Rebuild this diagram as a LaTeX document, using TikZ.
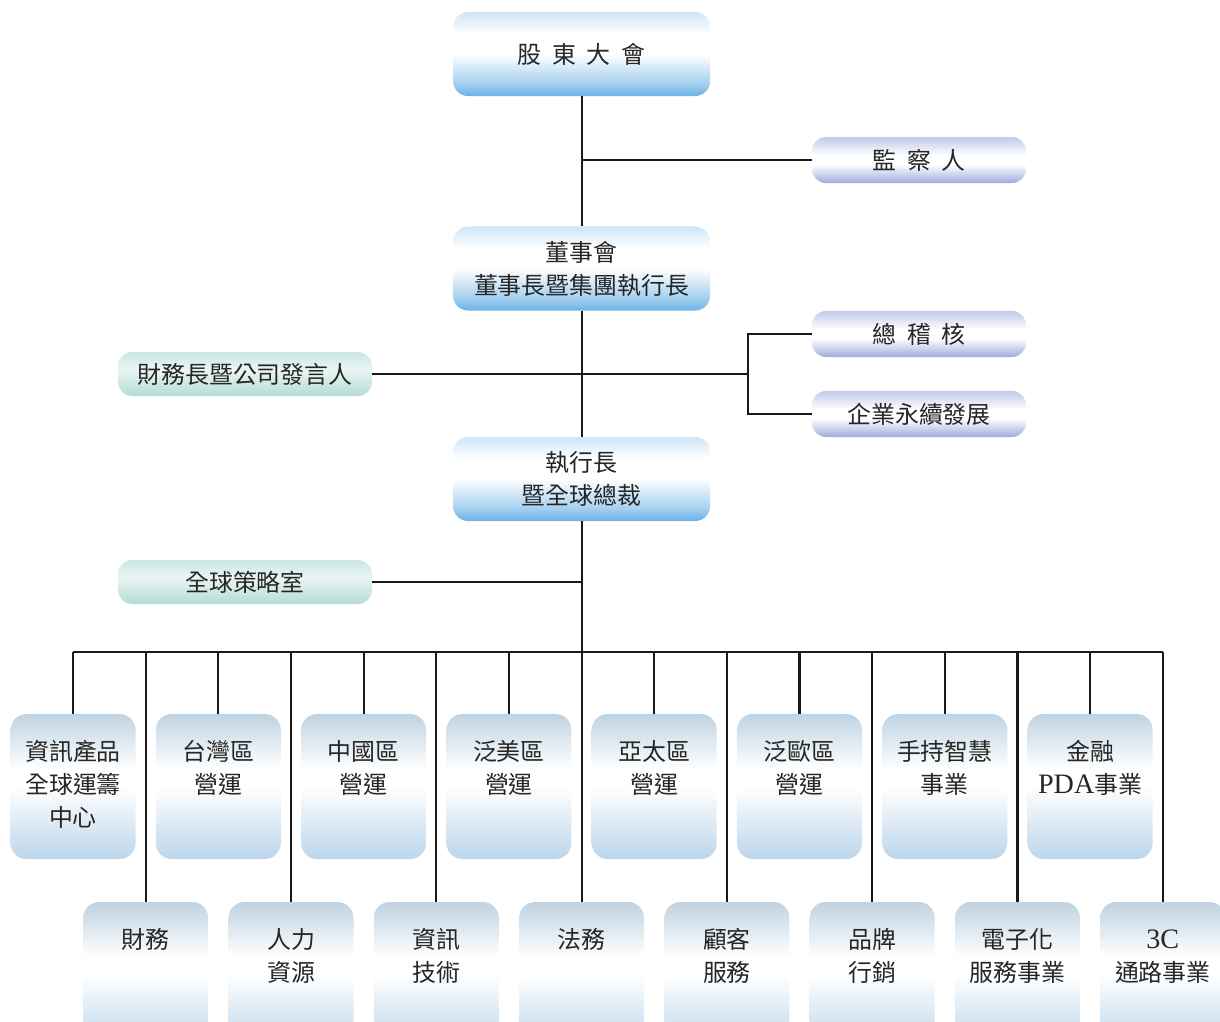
\documentclass[tikz,border=0pt]{standalone}
\usepackage{fontspec}
\setmainfont{Liberation Serif}
\newfontfamily\cjk{Noto Sans CJK TC}
\usetikzlibrary{calc,positioning}

\definecolor{bluetop}{HTML}{CFE6F8}
\definecolor{bluebot}{HTML}{6CB2E6}
\definecolor{lavtop}{HTML}{C2C8EA}
\definecolor{lavbot}{HTML}{A0AADC}
\definecolor{tealtop}{HTML}{CBE7E2}
\definecolor{tealbot}{HTML}{B3DCD5}
\definecolor{greytop}{HTML}{BFD3E2}
\definecolor{greybot}{HTML}{BCD6EB}

% vertical shadings, the middle 50bp is fitted to the node
\pgfdeclareverticalshading{bluebar}{100bp}{color(0bp)=(bluebot); color(25bp)=(bluebot); color(33bp)=(bluebot!60!white); color(50bp)=(white); color(62bp)=(white); color(75bp)=(bluetop); color(100bp)=(bluetop)}
\pgfdeclareverticalshading{lavbar}{100bp}{color(0bp)=(lavbot); color(25bp)=(lavbot); color(45bp)=(white); color(55bp)=(white); color(75bp)=(lavtop); color(100bp)=(lavtop)}
\pgfdeclareverticalshading{tealbar}{100bp}{color(0bp)=(tealbot); color(25bp)=(tealbot); color(55bp)=(tealtop!40!white); color(75bp)=(tealtop); color(100bp)=(tealtop)}
\pgfdeclareverticalshading{greybar}{100bp}{color(0bp)=(greybot); color(25bp)=(greybot); color(50bp)=(white); color(56bp)=(white); color(75bp)=(greytop); color(100bp)=(greytop)}

\newcommand\chgap{\hspace{.45em}}
\newcommand\romn[1]{{\rmfamily\fontsize{20}{23.5}\selectfont #1}}

\begin{document}
\begin{tikzpicture}[
	x=0.025cm, y=-0.025cm,
	font=\cjk\fontsize{17}{23.5}\selectfont,
	topbox/.style={rounded corners=0.375cm, minimum width=6.425cm, minimum height=2.1cm, shading=bluebar, align=center, text=black!85},
	sidebox/.style={rounded corners=0.35cm, minimum width=5.35cm, minimum height=1.15cm, shading=lavbar, text=black!85},
	staffbox/.style={rounded corners=0.35cm, minimum width=6.35cm, minimum height=1.1cm, shading=tealbar, text=black!85},
	unitbox/.style={rounded corners=0.4cm, minimum width=3.125cm, minimum height=3.625cm, shading=greybar, align=center, text=black!85},
	link/.style={line width=1.5pt, black!90}
	]
	\useasboundingbox (0,0) rectangle (1220,1021);
	%Nodes
	\node[topbox](agm) at (581.6,54) {股\chgap 東\chgap 大\chgap 會};
	\node[sidebox](sup) at (919,160) {監\chgap 察\chgap 人};
	\node[topbox](board) at (581.6,268.5) {董事會\\董事長暨集團執行長};
	\node[sidebox](audit) at (919,334) {總\chgap 稽\chgap 核};
	\node[sidebox](esg) at (919,414) {企業永續發展};
	\node[staffbox](cfo) at (245,374) {財務長暨公司發言人};
	\node[topbox](ceo) at (581.6,479) {執行長\\暨全球總裁};
	\node[staffbox](strat) at (245,582) {全球策略室};
	% business units, upper row
	\foreach \a/\b/\c [count=\i] in {資訊產品/全球運籌/中心, 台灣區/營運/, 中國區/營運/, 泛美區/營運/, 亞太區/營運/, 泛歐區/營運/, 手持智慧/事業/, 金融/\romn{PDA}事業/}
		\node[unitbox](u\i) at ({73+145.3*(\i-1)},786.5) {\strut\a\\\strut\b\\\strut\c};
	% functions, lower row
	\foreach \a/\b [count=\i] in {財務/, 人力/資源, 資訊/技術, 法務/, 顧客/服務, 品牌/行銷, 電子化/服務事業, \romn{3C}/通路事業}
		\node[unitbox](l\i) at ({145.7+145.3*(\i-1)},974.5) {\strut\a\\\strut\b\\\strut};
	\coordinate (split) at (748,374);
	\coordinate (bus) at (0,652);
	%Lines
	\draw[link] (agm.south) -- (board.north);
	\draw[link] (board.south) -- (ceo.north);
	\draw[link] (ceo.south) -- (ceo.south |- l4.north);
	\draw[link] (sup.west) -- (sup.west -| agm.south);
	\draw[link] (cfo.east) -- (split);
	\draw[link] (audit.west) -| (split) |- (esg.west);
	\draw[link] (strat.east) -- (strat.east -| ceo.south);
	\draw[link] (u1.north |- bus) -- (l8.north |- bus);
	\foreach \i in {1,...,8}{
		\draw[link] (u\i.north) -- (u\i.north |- bus);
		\draw[link] (l\i.north) -- (l\i.north |- bus);
	}
\end{tikzpicture}
\end{document}
